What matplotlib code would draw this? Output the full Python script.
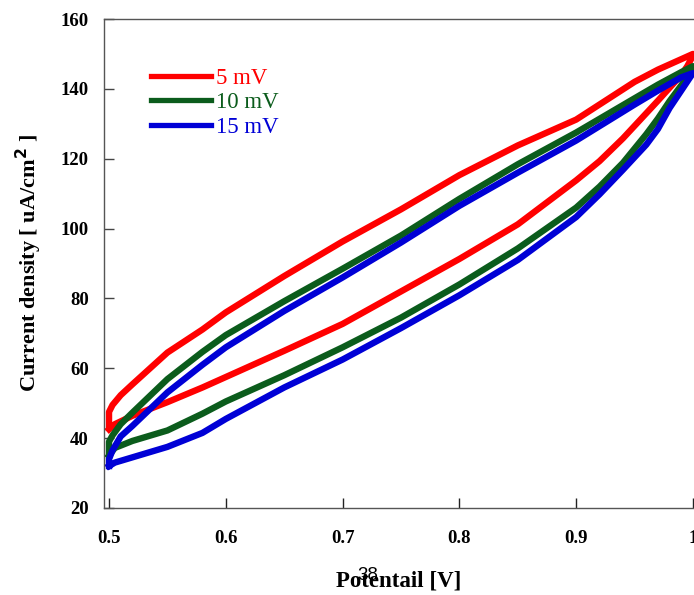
import matplotlib
matplotlib.use("Agg")
import matplotlib.pyplot as plt

# ---------------- data ----------------
labels = ["5 mV", "10 mV", "15 mV"]
colors = ["#ff0000", "#0b5c1c", "#0000d6"]

# forward (upper) branches
x_up = [0.5, 0.5, 0.503, 0.51, 0.52, 0.55, 0.58, 0.6, 0.65, 0.7, 0.75, 0.8, 0.85, 0.9, 0.95, 0.97, 0.99, 1.0]
red_up   = [43.0, 47.5, 49.5, 52.3, 55.4, 64.5, 71.1, 76.0, 86.4, 96.3, 105.5, 115.3, 123.8, 131.2, 142.0, 145.5, 148.5, 150.0]
green_up = [35.0, 39.0, 40.8, 44.0, 47.3, 56.9, 64.7, 69.5, 79.2, 88.5, 98.0, 108.5, 118.4, 127.5, 137.3, 141.2, 144.8, 146.5]
blue_up  = [32.0, 34.0, 36.5, 40.5, 43.5, 53.1, 61.0, 66.0, 76.4, 86.0, 96.0, 106.5, 116.0, 125.2, 135.5, 139.5, 143.3, 144.5]

# reverse (lower) branches
x_down = [1.0, 0.995, 0.99, 0.98, 0.97, 0.96, 0.94, 0.92, 0.9, 0.85, 0.8, 0.75, 0.7, 0.65, 0.6, 0.58, 0.55, 0.52, 0.505, 0.5]
red_down   = [149.5, 146.4, 144.0, 140.3, 136.6, 133.0, 125.8, 119.3, 113.8, 101.2, 91.3, 82.0, 72.7, 65.0, 57.5, 54.5, 50.3, 46.4, 44.0, 42.5]
green_down = [146.5, 143.5, 141.0, 136.5, 131.5, 127.0, 118.8, 112.0, 106.0, 94.3, 84.0, 74.5, 66.0, 58.0, 50.5, 47.0, 42.2, 39.2, 37.2, 35.0]
blue_down  = [144.5, 142.0, 139.5, 134.5, 128.5, 124.0, 116.8, 109.8, 103.3, 91.0, 80.9, 71.5, 62.5, 54.5, 45.5, 41.5, 37.5, 34.5, 33.0, 32.0]

x_ticks = [0.5, 0.6, 0.7, 0.8, 0.9, 1.0]
x_ticklabels = ["0.5", "0.6", "0.7", "0.8", "0.9", "1"]
y_ticks = [20, 40, 60, 80, 100, 120, 140, 160]

# ---------------- figure ----------------
fig = plt.figure(figsize=(6.94, 5.95), dpi=100)
ax = fig.add_axes([104 / 694, 1 - 508 / 595, 590 / 694, 489 / 595])

ups = [red_up, green_up, blue_up]
downs = [red_down, green_down, blue_down]
for lab, col, yu, yd in zip(labels, colors, ups, downs):
    xs = x_up + x_down
    ys = yu + yd
    ax.plot(xs, ys, color=col, lw=4.6, label=lab, solid_joinstyle="round")

ax.set_xlim(0.4957, 1.0009)
ax.set_ylim(20, 160)

serif = ["Liberation Serif", "DejaVu Serif"]
ax.set_xticks(x_ticks)
ax.set_xticklabels(x_ticklabels, family=serif, fontweight="bold", fontsize=13.5)
ax.set_yticks(y_ticks)
ax.set_yticklabels([str(v) for v in y_ticks], family=serif, fontweight="bold", fontsize=13.5)
ax.tick_params(axis="x", direction="in", length=7, width=1, pad=16, color="#222222")
ax.tick_params(axis="y", direction="in", length=7, width=1, pad=11, color="#444444")

for s in ["left", "bottom", "top"]:
    ax.spines[s].set_color("#555555")
    ax.spines[s].set_linewidth(1.0)
ax.spines["right"].set_visible(False)

ax.set_xlabel("Potentail [V]", family=serif, fontweight="bold", fontsize=16.5, labelpad=17)
ax.set_ylabel("Current density [ uA/cm$^\\mathbf{2}$ ]", family=serif, fontweight="bold",
              fontsize=16, labelpad=12)

leg = ax.legend(loc="upper left", bbox_to_anchor=(0.079, 0.900), frameon=False,
                prop={"family": serif, "size": 16.5}, handlelength=2.62,
                handletextpad=0.22, labelspacing=0.145, borderpad=0, borderaxespad=0,
                labelcolor="linecolor")
for ln in leg.get_lines():
    ln.set_linewidth(3.8)

fig.text(368 / 694, 1 - 575 / 595, "38", family=["Liberation Sans", "DejaVu Sans"],
         fontsize=13.5, ha="center", va="center")

fig.savefig("out.png", dpi=100)
